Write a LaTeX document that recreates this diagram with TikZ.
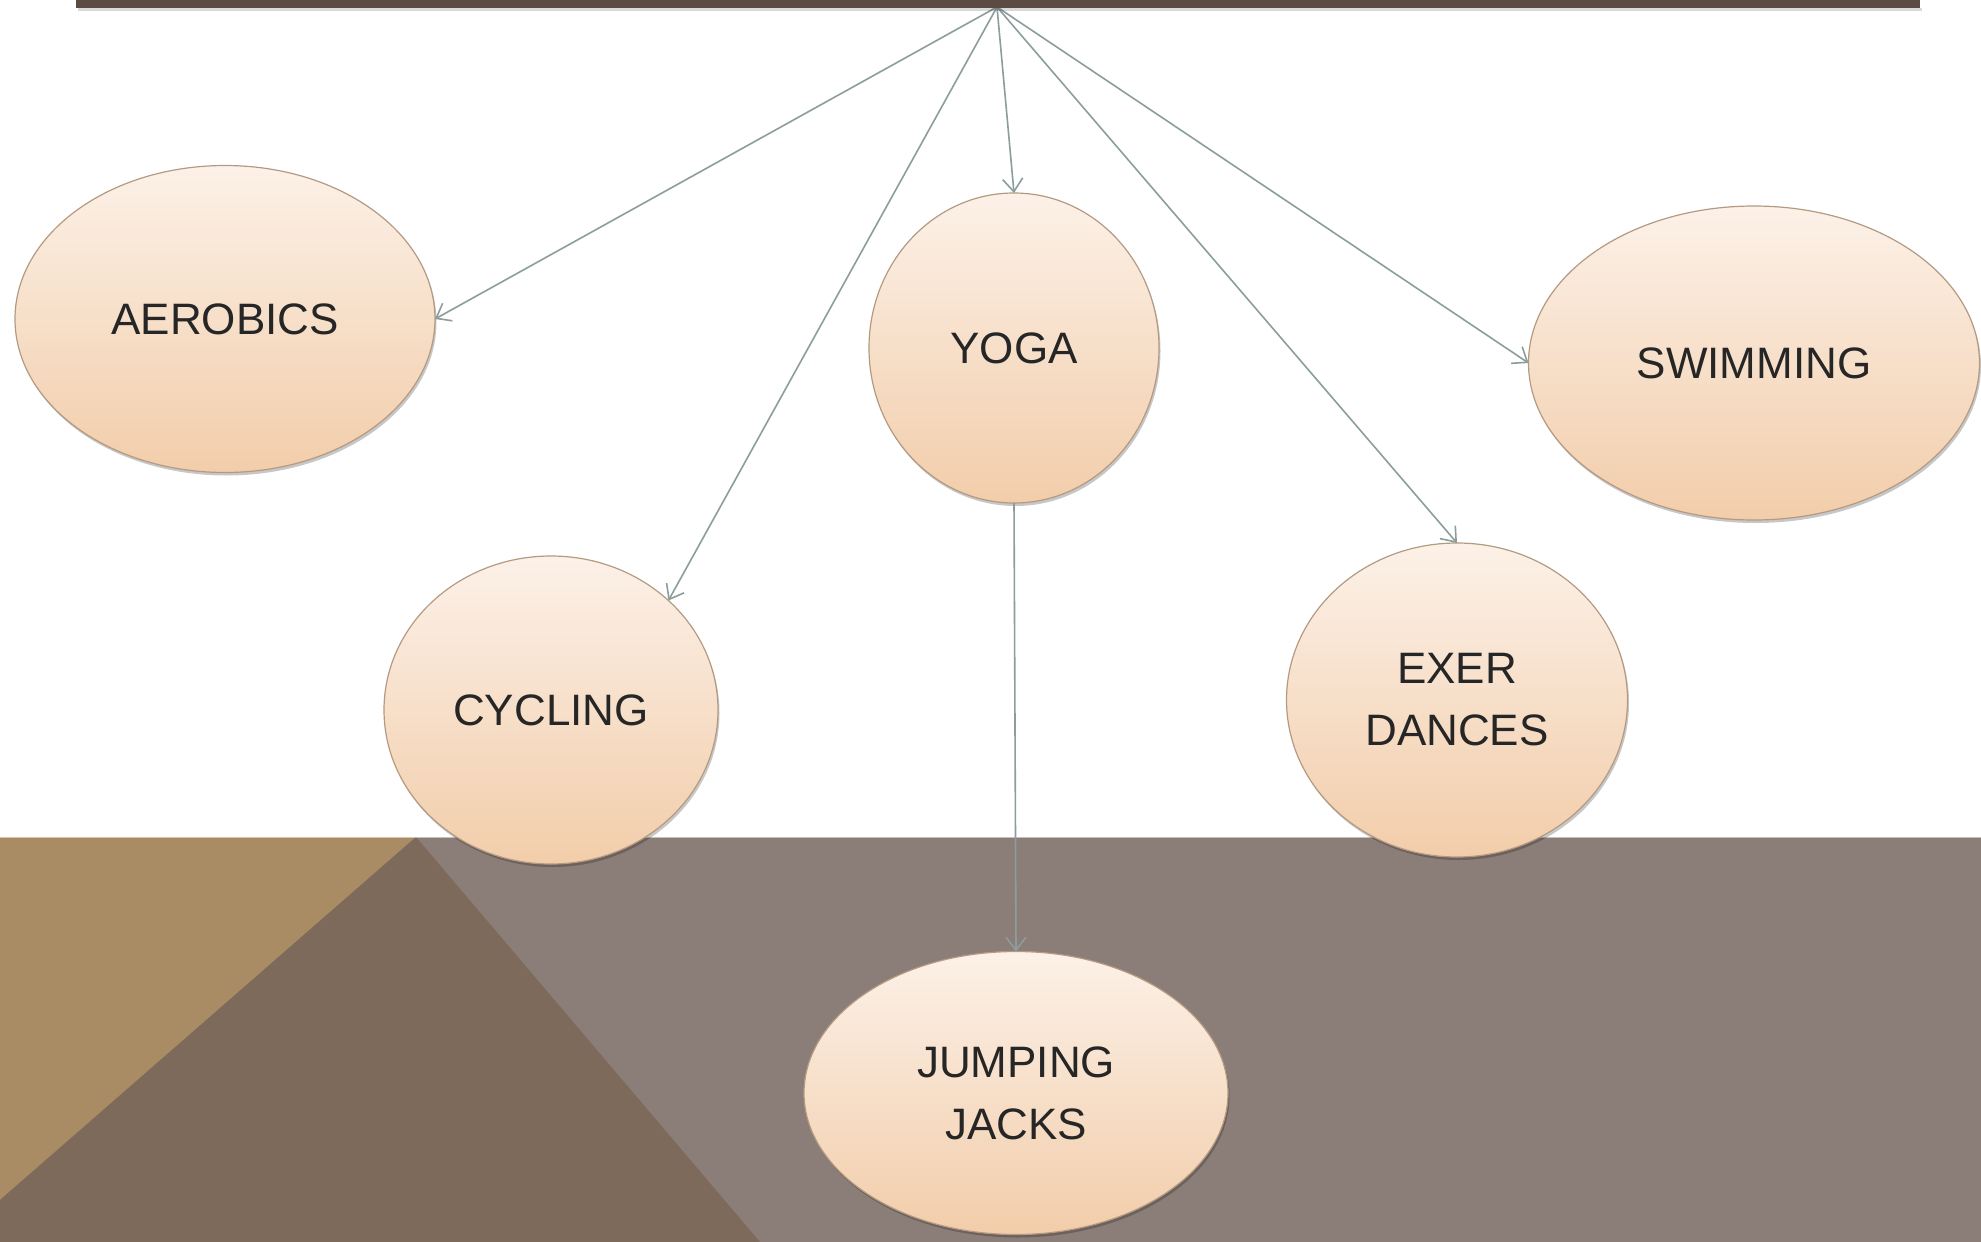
\documentclass[tikz,border=0pt]{standalone}
\usepackage{fontspec}
\setmainfont{Liberation Sans}
\usetikzlibrary{shapes.geometric,arrows.meta,shadows}
\definecolor{barc}{HTML}{5B4B43}
\definecolor{greyc}{HTML}{8B7D77}
\definecolor{tanc}{HTML}{A98C64}
\definecolor{darkc}{HTML}{7D6A5B}
\definecolor{bubtop}{HTML}{FCF1E8}
\definecolor{bubbot}{HTML}{F2CDAA}
\definecolor{bubedge}{HTML}{B59A82}
\definecolor{linkc}{HTML}{8C9E9C}
\definecolor{textc}{HTML}{262626}
\begin{document}
\begin{tikzpicture}[x=1pt,y=-1pt,
  bubble/.style={ellipse, draw=bubedge, line width=1.2pt, top color=bubtop, bottom color=bubbot,
    inner sep=0pt, outer sep=0pt, align=center, text=textc,
    font=\fontsize{44}{62}\selectfont,
    drop shadow={shadow xshift=1.5pt, shadow yshift=-3pt, fill=black, opacity=0.22}},
  link/.style={draw=linkc, line width=1.6pt,
    -{Straight Barb[length=13pt,width=20pt,line width=1.6pt]}}]
\useasboundingbox (0,0) rectangle (1981,1242);
\fill[white] (0,0) rectangle (1981,1242);
% bottom background
\fill[greyc] (0,837) rectangle (1981,1242);
\fill[tanc] (0,837) -- (416,837) -- (0,1200) -- cycle;
\fill[darkc] (416,837) -- (0,1200) -- (0,1242) -- (760,1242) -- cycle;
\draw[white, opacity=0.5, line width=1pt] (0,837) -- (1981,837);
% bubbles
\node[bubble, minimum width=420pt, minimum height=307pt] (aero) at (225,319) {AEROBICS};
\node[bubble, minimum width=290pt, minimum height=310pt] (yoga) at (1014,348) {YOGA};
\node[bubble, minimum width=451pt, minimum height=314pt] (swim) at (1754,363) {SWIMMING};
\node[bubble, minimum width=334pt, minimum height=308pt] (cyc) at (551,710) {CYCLING};
\node[bubble, minimum width=341pt, minimum height=314pt] (exer) at (1457,700) {EXER\\DANCES};
\node[bubble, minimum width=424pt, minimum height=283pt] (jump) at (1016,1093) {JUMPING\\JACKS};
% connectors
\coordinate (hub) at (997,7);
\draw[link] (hub) -- (aero.east);
\draw[link] (hub) -- (cyc.43);
\draw[link] (hub) -- (yoga.north);
\draw[link] (hub) -- (exer.north);
\draw[link] (hub) -- (swim.west);
\draw[link] (yoga.south) -- (jump.north);
% top bar
\fill[black, opacity=0.15] (78,8) rectangle (1922,11);
\fill[barc] (76,-2) rectangle (1920,8);
\end{tikzpicture}
\end{document}
